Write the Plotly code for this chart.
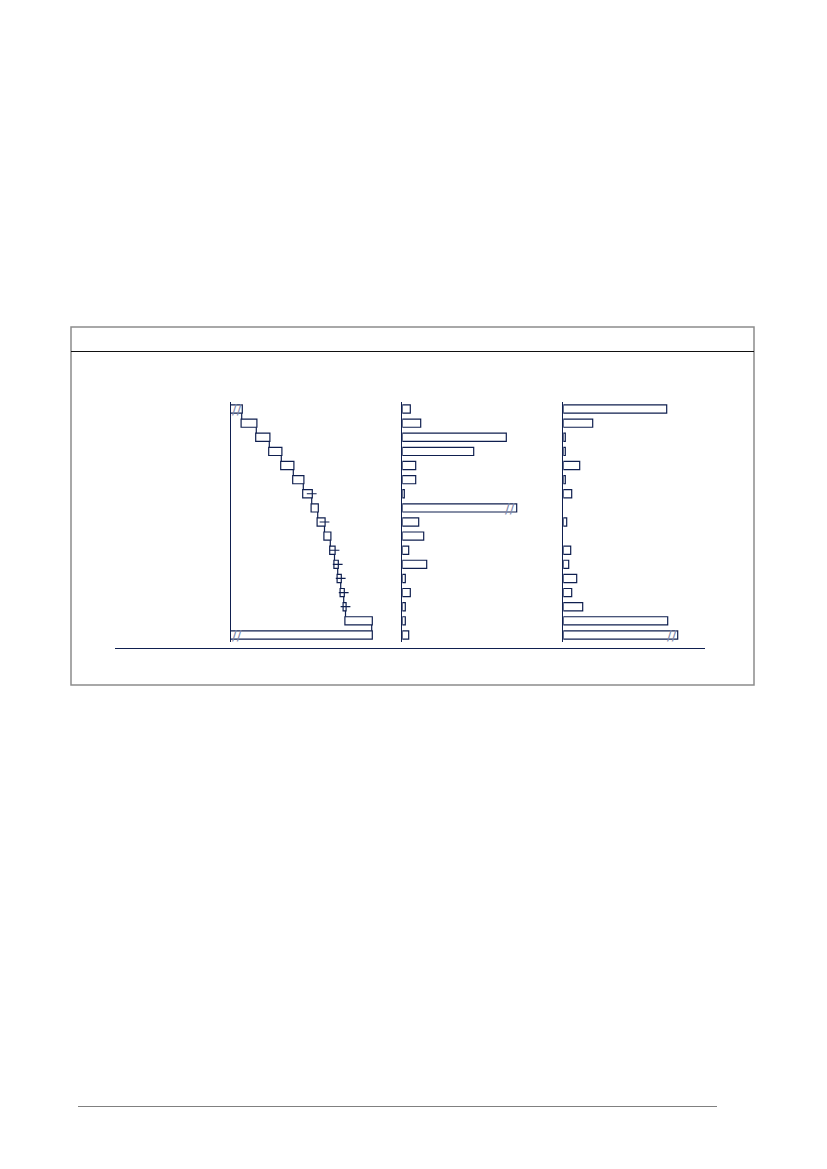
import numpy as np
import plotly.graph_objects as go

# 17 rows, top to bottom (no labels shown in the picture)
rows = [f"r{i}" for i in range(1, 18)]

# left panel: waterfall steps, last row is the total
left_steps = [11, 14.6, 13, 12, 12, 10, 8.4, 6, 6.8, 5.8, 4.2, 3.2, 3, 3, 1.8, 26.2, 0]
left_measure = ["relative"] * 16 + ["total"]
left_ticks = [0, 0, 0, 0, 0, 0, 1, 0, 1, 0, 1, 1, 1, 1, 1, 0, 0]   # rows with the small "+" mark

# middle and right panels
mid_vals = [8, 18.4, 104, 71.4, 13.4, 13.4, 2, 114.4, 16.4, 21.4, 6.4, 24.4, 3, 8, 3, 3, 6.4]
right_vals = [103.4, 29.4, 2, 2, 16.4, 2, 8.4, None, 3.4, None, 7.4, 5.4, 13.4, 8.4, 19.4, 104.4, 114.4]

# rows drawn with a break mark "//"
left_breaks = [0, 16]
mid_breaks = [7]
right_breaks = [16]

# page offset of the plot inside the browser (body margin)
OFF = 8
W, H = 827 - 2 * OFF, 1169 - 2 * OFF
navy = "#0f1f4f"
breakcol = "#7d88aa"


def px(x):
    return (x - OFF) / W


def py(y):
    return 1 - (y - OFF) / H


fig = go.Figure()

fig.add_trace(go.Waterfall(
    orientation="h", y=rows, x=left_steps, measure=left_measure,
    xaxis="x", yaxis="y",
    increasing=dict(marker=dict(color="white", line=dict(color=navy, width=1.2))),
    decreasing=dict(marker=dict(color="white", line=dict(color=navy, width=1.2))),
    totals=dict(marker=dict(color="white", line=dict(color=navy, width=1.2))),
    connector=dict(mode="between", line=dict(color=navy, width=1.2)),
    hoverinfo="skip", showlegend=False,
))

ends = np.cumsum(left_steps[:16])
tick_x = [ends[i] for i in range(16) if left_ticks[i]]
tick_y = [rows[i] for i in range(16) if left_ticks[i]]
fig.add_trace(go.Scatter(
    x=tick_x, y=tick_y, mode="markers", xaxis="x", yaxis="y",
    marker=dict(symbol="line-ew", size=7, line=dict(color=navy, width=1.2)),
    hoverinfo="skip", showlegend=False,
))

fig.add_trace(go.Bar(
    orientation="h", y=rows, x=mid_vals, xaxis="x2", yaxis="y2",
    marker=dict(color="white", line=dict(color=navy, width=1.2)),
    hoverinfo="skip", showlegend=False,
))
fig.add_trace(go.Bar(
    orientation="h", y=rows, x=right_vals, xaxis="x3", yaxis="y3",
    marker=dict(color="white", line=dict(color=navy, width=1.2)),
    hoverinfo="skip", showlegend=False,
))

# break marks
ann = []
for i in left_breaks:
    ann.append(dict(x=6.5, y=rows[i], xref="x", yref="y"))
for i in mid_breaks:
    ann.append(dict(x=mid_vals[i] - 7, y=rows[i], xref="x2", yref="y2"))
for i in right_breaks:
    ann.append(dict(x=right_vals[i] - 6, y=rows[i], xref="x3", yref="y3"))
for a in ann:
    a.update(text="//", showarrow=False, font=dict(family="DejaVu Sans", size=14, color=breakcol),
             xanchor="center", yanchor="middle")

ydom = [py(642), py(402)]
yax = dict(domain=ydom, range=[16.5, -0.5], type="category", showline=True, linecolor=navy, linewidth=1.2,
           showticklabels=False, ticks="", showgrid=False, zeroline=False)
xax = dict(showticklabels=False, ticks="", showgrid=False, zeroline=False, showline=False)

fig.update_layout(
    width=W, height=H,
    margin=dict(l=0, r=0, t=0, b=0),
    paper_bgcolor="white", plot_bgcolor="rgba(0,0,0,0)",
    bargap=0.42, waterfallgap=0.42,
    xaxis=dict(xax, domain=[px(230.7), px(390.7)], range=[0, 160], anchor="y"),
    xaxis2=dict(xax, domain=[px(402.3), px(552.3)], range=[0, 150], anchor="y2"),
    xaxis3=dict(xax, domain=[px(563.3), px(693.3)], range=[0, 130], anchor="y3"),
    yaxis=dict(yax, anchor="x"),
    yaxis2=dict(yax, anchor="x2", matches="y"),
    yaxis3=dict(yax, anchor="x3", matches="y"),
    annotations=ann,
    shapes=[
        dict(type="rect", xref="paper", yref="paper", x0=px(71), x1=px(754), y0=py(685), y1=py(327),
             line=dict(color="#8c8c8c", width=1.5)),
        dict(type="line", xref="paper", yref="paper", x0=px(71), x1=px(754), y0=py(351.5), y1=py(351.5),
             line=dict(color="#111111", width=1)),
        dict(type="line", xref="paper", yref="paper", x0=px(115), x1=px(705), y0=py(648.5), y1=py(648.5),
             line=dict(color=navy, width=1.2)),
        dict(type="line", xref="paper", yref="paper", x0=px(78), x1=px(717), y0=py(1106.5), y1=py(1106.5),
             line=dict(color="#808080", width=1)),
    ],
)

fig.write_html("out.html")
